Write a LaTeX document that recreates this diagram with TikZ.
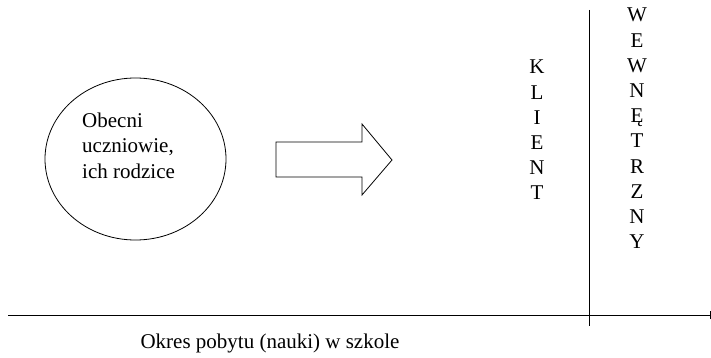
\documentclass[tikz,border=0pt]{standalone}
\usepackage{fontspec}
\setmainfont{Liberation Serif}
\usetikzlibrary{shapes.geometric}
\begin{document}
\begin{tikzpicture}[x=1pt,y=-1pt,
  txt/.style={inner sep=0pt,font=\fontsize{21}{25.2}\selectfont},
  ln/.style={line width=0.9pt,black}]
\useasboundingbox (0,0) rectangle (711,358);
% ellipse
\node[ellipse,draw,line width=0.8pt,minimum width=181pt,minimum height=162pt,inner sep=0pt] (grp) at (135.5,159) {};
\node[txt,anchor=north west,align=left] (grptxt) at (82,113) {Obecni\\uczniowie,\\ich rodzice};
% block arrow
\draw[line width=0.8pt] (276,142) -- (362,142) -- (362,124) -- (392,160) -- (362,195) -- (362,177) -- (276,177) -- cycle;
\coordinate (arr) at (334,160);
% columns
\node[txt,align=center] (klient) at (537,130) {K\\L\\I\\E\\N\\T};
\node[txt,align=center] (wewn) at (637,128.5) {W\\E\\W\\N\\Ę\\T\\R\\Z\\N\\Y};
% axes
\coordinate (vtop) at (589,10);
\coordinate (vbot) at (589,326);
\coordinate (hl) at (8,315);
\coordinate (hr) at (710,315);
\draw[ln] (vtop) -- (vbot);
\draw[ln] (hl) -- (hr);
\draw[ln] (710,311) -- (710,319);
\node[txt,anchor=base] (okres) at (270,348) {Okres pobytu (nauki) w szkole};
\end{tikzpicture}
\end{document}
